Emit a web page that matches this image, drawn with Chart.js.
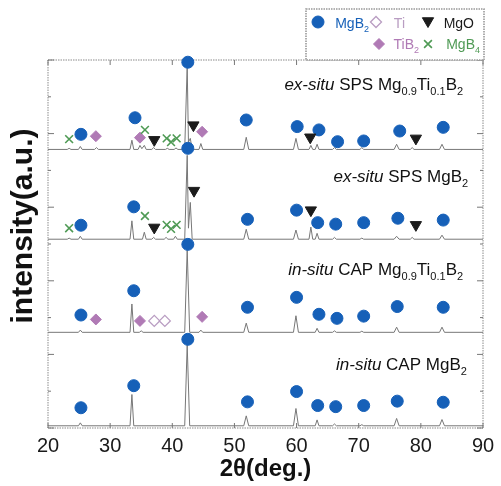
<!DOCTYPE html>
<html>
<head>
<meta charset="utf-8">
<script src="https://cdn.jsdelivr.net/npm/chart.js@4"></script>
<style>
  html, body { margin: 0; padding: 0; background: #fff; }
  #wrap { width: 501px; height: 486px; position: relative; }
</style>
</head>
<body>
<div id="wrap"><canvas id="chart"></canvas></div>
<script>
// XRD patterns, [2theta, intensity] relative to each trace's own baseline
const exSituTi = [[20,0],[23.1,0],[23.4,0.03],[23.7,0],[24.9,0],[25.2,0.08],[25.5,0],[27.5,0],[27.8,0.05],[28.1,0],
  [33.2,0],[33.5,0.25],[33.8,0],[34.5,0],[34.8,0.11],[35.1,0.02],[35.5,0.11],[35.8,0],[36.7,0],[37.0,0.05],[37.3,0],
  [38.9,0],[39.2,0.03],[39.5,0],[40.3,0],[40.6,0.04],[40.9,0],[42.0,0],[42.4,2.28],[42.6,0.2],[42.9,0.3],[43.2,0],
  [44.3,0],[44.6,0.16],[44.9,0],[51.5,0],[51.9,0.33],[52.3,0],[59.5,0],[59.9,0.3],[60.3,0],[62.0,0],[62.3,0.11],[62.6,0],
  [63.0,0],[63.3,0.14],[63.6,0],[65.8,0],[66.1,0.05],[66.4,0],[70.2,0],[70.5,0.05],[70.8,0],[75.7,0],[76.1,0.14],[76.5,0],
  [78.3,0],[78.6,0.05],[78.9,0],[83.0,0],[83.4,0.14],[83.8,0],[90,0]];
const exSituMgB2 = [[20,0],[23.1,0],[23.4,0.03],[23.7,0],[24.9,0],[25.2,0.08],[25.5,0],[33.2,0],[33.5,0.5],[33.8,0],
  [35.2,0],[35.5,0.19],[35.8,0],[36.7,0],[37.0,0.05],[37.3,0],[38.7,0],[39.0,0.05],[39.3,0],[40.2,0],[40.5,0.08],[40.8,0],
  [42.0,0],[42.4,2.28],[42.6,0.3],[42.9,1.0],[43.2,0],[51.5,0],[51.9,0.27],[52.3,0],[59.5,0],[59.9,0.25],[60.3,0],
  [62.0,0],[62.3,0.33],[62.6,0],[63.0,0],[63.3,0.16],[63.6,0],[65.8,0],[66.1,0.05],[66.4,0],[70.2,0],[70.5,0.03],[70.8,0],
  [75.7,0],[76.1,0.08],[76.5,0],[78.3,0],[78.6,0.05],[78.9,0],[83.0,0],[83.4,0.11],[83.8,0],[90,0]];
const inSituTi = [[20,0],[24.9,0],[25.2,0.06],[25.5,0],[33.2,0],[33.5,0.77],[33.8,0],[34.7,0],[35.0,0.04],[35.3,0],
  [42.0,0],[42.4,2.25],[42.8,0],[44.3,0],[44.6,0.06],[44.9,0],[51.5,0],[51.9,0.25],[52.3,0],[59.5,0],[59.9,0.45],[60.3,0],
  [63.0,0],[63.3,0.11],[63.6,0],[65.8,0],[66.1,0.04],[66.4,0],[70.2,0],[70.5,0.03],[70.8,0],[75.7,0],[76.1,0.14],[76.5,0],
  [83.0,0],[83.4,0.14],[83.8,0],[90,0]];
const inSituMgB2 = [[20,0],[24.9,0],[25.2,0.08],[25.5,0],[33.2,0],[33.5,0.85],[33.8,0],[42.0,0],[42.4,2.2],[42.8,0],
  [51.5,0],[51.9,0.27],[52.3,0],[59.5,0],[59.9,0.47],[60.3,0],[63.0,0],[63.3,0.16],[63.6,0],[65.8,0],[66.1,0.05],[66.4,0],
  [70.2,0],[70.5,0.03],[70.8,0],[75.7,0],[76.1,0.2],[76.5,0],[83.0,0],[83.4,0.17],[83.8,0],[90,0]];
const traceOffsets = [7.57, 5.13, 2.6, 0.06];

// phase markers, [2theta, stacked intensity]
const mgb2Marks = [[25.3,7.98],[34.0,8.43],[42.5,9.94],[51.9,8.37],[60.1,8.19],[63.6,8.10],[66.6,7.78],[70.8,7.8],[76.6,8.07],[83.6,8.17],
  [25.3,5.51],[33.8,6.01],[42.5,7.6],[52.1,5.67],[60.0,5.92],[63.4,5.58],[66.3,5.54],[70.8,5.58],[76.3,5.70],[83.6,5.65],
  [25.3,3.07],[33.8,3.73],[42.5,4.99],[52.1,3.28],[60.0,3.55],[63.6,3.09],[66.5,2.98],[70.8,3.04],[76.2,3.30],[83.6,3.28],
  [25.3,0.55],[33.8,1.15],[42.5,2.41],[52.1,0.71],[60.0,0.99],[63.4,0.61],[66.3,0.58],[70.8,0.61],[76.2,0.73],[83.6,0.70]];
const mgoMarks = [[37.1,7.83],[43.4,8.23],[62.2,7.9],[79.2,7.87],[37.1,5.45],[43.5,6.45],[62.3,5.92],[79.2,5.52]];
const tib2Marks = [[27.7,7.93],[34.8,7.89],[44.8,8.05],[27.7,2.95],[34.8,2.91],[44.8,3.02]];
const tiMarks = [[37.1,2.91],[38.8,2.91]];
const mgb4Marks = [[23.4,7.85],[35.6,8.10],[39.1,7.87],[39.8,7.77],[40.7,7.87],[23.4,5.43],[35.6,5.76],[39.1,5.52],[39.8,5.41],[40.7,5.52]];

const xTicks = [20, 30, 40, 50, 60, 70, 80, 90];

const BLUE = '#1660b8', PURPLE = '#b07ab5', TI = '#b99dc2', GREEN = '#4f9a55', DARK = '#1b1b1b';
const FONT = '"Liberation Sans", Arial, sans-serif';

function pts(arr) { return arr.map(([x, y]) => ({ x, y })); }

const lineSets = [exSituTi, exSituMgB2, inSituTi, inSituMgB2].map((p, k) => ({
  data: p.map(([x, y]) => ({ x, y: y + traceOffsets[k] })),
  showLine: true, borderColor: '#777', borderWidth: 1, pointRadius: 0, order: 2
}));

const markSets = [
  { data: pts(mgb4Marks), pointStyle: 'crossRot', pointRadius: 5.5, borderColor: GREEN, backgroundColor: GREEN, pointBorderWidth: 1.6 },
  { data: pts(tib2Marks), pointStyle: 'rectRot', pointRadius: 5.5, borderColor: PURPLE, backgroundColor: PURPLE },
  { data: pts(tiMarks), pointStyle: 'rectRot', pointRadius: 5.5, borderColor: TI, backgroundColor: '#fff', pointBorderWidth: 1.3 },
  { data: pts(mgoMarks), pointStyle: 'triangle', rotation: 180, pointRadius: 6.5, borderColor: DARK, backgroundColor: DARK },
  { data: pts(mgb2Marks), pointStyle: 'circle', pointRadius: 6, borderColor: BLUE, backgroundColor: BLUE }
].map(d => Object.assign({ showLine: false, clip: false, order: 0 }, d));

// rich text: [text, kind] where kind is 'i' italic, 's' subscript, '' normal
function drawRich(c, segs, xRight, yBase, size, color) {
  const fontOf = k => (k === 'i' ? 'italic ' : '') + (k === 's' ? Math.round(size * 0.65) : size) + 'px ' + FONT;
  let total = 0;
  segs.forEach(([t, k]) => { c.font = fontOf(k); total += c.measureText(t).width; });
  let x = xRight - total;
  c.fillStyle = color;
  c.textAlign = 'left';
  c.textBaseline = 'alphabetic';
  segs.forEach(([t, k]) => {
    c.font = fontOf(k);
    c.fillText(t, x, yBase + (k === 's' ? size * 0.3 : 0));
    x += c.measureText(t).width;
  });
}

const traceLabels = [
  { at: [86.8, 9.18], segs: [['ex-situ','i'],[' SPS Mg',''],['0.9','s'],['Ti',''],['0.1','s'],['B',''],['2','s']] },
  { at: [87.6, 6.68], segs: [['ex-situ','i'],[' SPS MgB',''],['2','s']] },
  { at: [86.8, 4.16], segs: [['in-situ','i'],[' CAP Mg',''],['0.9','s'],['Ti',''],['0.1','s'],['B',''],['2','s']] },
  { at: [87.4, 1.58], segs: [['in-situ','i'],[' CAP MgB',''],['2','s']] }
];

const decor = {
  id: 'decor',
  beforeDatasetsDraw(chart) {
    const c = chart.ctx, a = chart.chartArea, xs = chart.scales.x, ys = chart.scales.y;
    c.save();
    c.strokeStyle = '#8a8a8a';
    c.lineWidth = 1;
    c.setLineDash([1.5, 1]);
    c.strokeRect(a.left, a.top, a.right - a.left, a.bottom - a.top);
    c.setLineDash([]);
    c.strokeStyle = '#777';
    for (let v = 0; v <= 10; v++) {
      const y = ys.getPixelForValue(v), len = v % 2 === 0 ? 6 : 3;
      c.beginPath();
      c.moveTo(a.left, y); c.lineTo(a.left + len, y);
      c.moveTo(a.right, y); c.lineTo(a.right - len, y);
      c.stroke();
    }
    xTicks.forEach(v => {
      const x = xs.getPixelForValue(v);
      c.beginPath();
      c.moveTo(x, a.bottom); c.lineTo(x, a.bottom - 5);
      c.moveTo(x, a.top); c.lineTo(x, a.top + 5);
      c.stroke();
    });
    c.restore();
  },
  afterDraw(chart) {
    const c = chart.ctx, xs = chart.scales.x, ys = chart.scales.y;
    c.save();
    traceLabels.forEach(l => drawRich(c, l.segs, xs.getPixelForValue(l.at[0]), ys.getPixelForValue(l.at[1]), 17, '#111'));

    // y axis title
    c.translate(24, 226);
    c.rotate(-Math.PI / 2);
    c.font = 'bold 30px ' + FONT;
    c.fillStyle = '#111';
    c.textAlign = 'center';
    c.textBaseline = 'middle';
    c.fillText('intensity(a.u.)', 0, 0);
    c.restore();

    // legend box
    c.save();
    c.fillStyle = '#fff';
    c.fillRect(306, 9, 178, 51);
    c.strokeStyle = '#999';
    c.setLineDash([1.5, 1]);
    c.strokeRect(306, 9, 178, 51);
    c.setLineDash([]);
    const H = Chart.helpers;
    const mark = (style, x, y, r, fill, stroke, bw, rot) => {
      c.fillStyle = fill; c.strokeStyle = stroke; c.lineWidth = bw;
      H.drawPoint(c, { pointStyle: style, radius: r, rotation: rot || 0, borderWidth: bw }, x, y);
    };
    mark('circle', 318, 22, 6, BLUE, BLUE, 1);
    mark('rectRot', 376, 22, 5.5, '#fff', TI, 1.3);
    mark('triangle', 428, 21, 6.5, DARK, DARK, 1, 180);
    mark('rectRot', 379, 44, 5.5, PURPLE, PURPLE, 1);
    mark('crossRot', 428, 44, 5.5, GREEN, GREEN, 1.6);
    drawRich(c, [['MgB',''],['2','s']], 369, 28, 14, BLUE);
    drawRich(c, [['Ti','']], 405, 28, 14, TI);
    drawRich(c, [['MgO','']], 474, 28, 14, DARK);
    drawRich(c, [['TiB',''],['2','s']], 419, 49, 14, PURPLE);
    drawRich(c, [['MgB',''],['4','s']], 480, 49, 14, GREEN);
    c.restore();
  }
};

new Chart(document.getElementById('chart'), {
  type: 'scatter',
  data: { datasets: markSets.concat(lineSets) },
  options: {
    responsive: true,
    maintainAspectRatio: false,
    animation: false,
    layout: { padding: { top: 60, right: 18, left: 0, bottom: 0 } },
    plugins: { legend: { display: false }, tooltip: { enabled: false } },
    scales: {
      x: {
        type: 'linear', min: 20, max: 90,
        afterBuildTicks: s => { s.ticks = xTicks.map(v => ({ value: v })); },
        afterFit: s => { s.height = 58; },
        grid: { display: false, drawTicks: false },
        border: { display: false },
        ticks: { color: '#1a1a1a', font: { family: FONT, size: 20 }, padding: 6, maxRotation: 0 },
        title: { display: true, text: '2θ(deg.)', color: '#111', font: { family: FONT, size: 24, weight: 'bold' }, padding: { top: 0, bottom: 2 } }
      },
      y: {
        min: 0, max: 10,
        afterFit: s => { s.width = 48; },
        grid: { display: false, drawTicks: false },
        border: { display: false },
        ticks: { display: false, stepSize: 1 }
      }
    }
  },
  plugins: [decor]
});
</script>
</body>
</html>
